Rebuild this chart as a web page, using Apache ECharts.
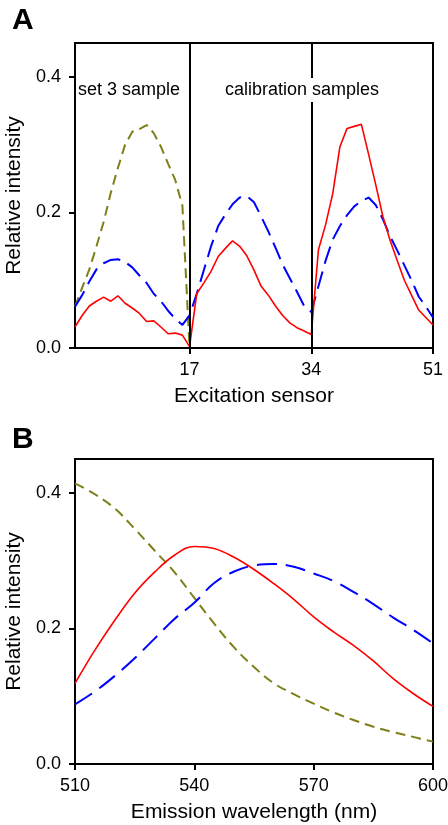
<!DOCTYPE html>
<html>
<head>
<meta charset="utf-8">
<script src="https://cdn.jsdelivr.net/npm/echarts@6/dist/echarts.min.js"></script>
<style>
html,body{margin:0;padding:0;background:#fff;}
#chart{width:448px;height:825px;}
</style>
</head>
<body>
<div id="chart"></div>
<script>
// Panel A data
const sensor = [1,2,3,4,5,6,7,8,9,10,11,12,13,14,15,16,17,18,19,20,21,22,23,24,25,26,27,28,29,30,31,32,33,34,35,36,37,38,39,40,41,42,43,44,45,46,47,48,49,50,51];
const redA = [0.031,0.048,0.062,0.069,0.075,0.069,0.077,0.066,0.059,0.051,0.039,0.040,0.031,0.021,0.022,0.019,0.002,
  0.080,0.096,0.113,0.135,0.147,0.158,0.150,0.136,0.115,0.091,0.078,0.062,0.048,0.037,0.030,0.025,0.020,
  0.145,0.182,0.228,0.297,0.324,0.327,0.330,0.286,0.241,0.194,0.159,0.129,0.100,0.078,0.056,0.045,0.034];
const blueA = [0.061,0.078,0.098,0.116,0.125,0.130,0.131,0.127,0.119,0.107,0.096,0.080,0.069,0.055,0.043,0.034,0.048,
  0.080,0.115,0.150,0.180,0.197,0.212,0.222,0.224,0.215,0.194,0.172,0.148,0.123,0.103,0.083,0.062,0.053,
  0.091,0.129,0.160,0.180,0.196,0.209,0.217,0.222,0.211,0.190,0.165,0.144,0.122,0.100,0.076,0.061,0.045];
const oliveA = [0.061,0.089,0.116,0.150,0.186,0.229,0.266,0.300,0.319,0.323,0.329,0.317,0.297,0.272,0.248,0.210,0.000];
const yTicks = [0, 0.2, 0.4];
const xTicksA = [17, 34, 51];

// Panel B data
const wavelength = [510,515,520,525,530,535,540,545,550,555,560,565,570,575,580,585,590,595,600];
const redB = [0.119,0.168,0.212,0.252,0.283,0.308,0.321,0.318,0.305,0.287,0.266,0.243,0.217,0.195,0.175,0.152,0.126,0.104,0.085];
const blueB = [0.088,0.107,0.130,0.156,0.185,0.214,0.238,0.267,0.284,0.293,0.295,0.291,0.281,0.270,0.254,0.236,0.216,0.198,0.178];
const oliveB = [0.414,0.398,0.377,0.347,0.315,0.283,0.245,0.207,0.172,0.143,0.119,0.103,0.089,0.076,0.065,0.055,0.047,0.040,0.033];
const xTicksB = [510, 540, 570, 600];

const RED = '#ff0000', BLUE = '#0000ff', OLIVE = '#7f7f1a';
const FONT = "'Liberation Sans', Arial, sans-serif";

function pairs(xs, ys) { return ys.map((v, i) => [xs[i], v]); }

function yAxisCfg(gi) {
  return {
    type: 'value', gridIndex: gi, min: 0, max: 0.45,
    name: 'Relative intensity', nameLocation: 'middle', nameGap: 44, nameRotate: 90,
    nameTextStyle: { fontSize: 21, color: '#000', fontFamily: FONT },
    axisLine: { show: true, lineStyle: { color: '#000', width: 2 } },
    axisTick: { show: true, length: 6, inside: false, customValues: yTicks, lineStyle: { color: '#000', width: 2 } },
    axisLabel: { customValues: yTicks, fontSize: 18, color: '#000', margin: 14, fontFamily: FONT,
      formatter: v => v.toFixed(1) },
    splitLine: { show: false }
  };
}

const chart = echarts.init(document.getElementById('chart'), null, { renderer: 'canvas' });
chart.setOption({
  animation: false,
  backgroundColor: '#fff',
  textStyle: { fontFamily: FONT },
  title: [
    { text: 'A', left: 12, top: 6, padding: 0, textStyle: { fontSize: 30, fontWeight: 'bold', color: '#000', fontFamily: FONT } },
    { text: 'B', left: 12, top: 425, padding: 0, textStyle: { fontSize: 30, fontWeight: 'bold', color: '#000', fontFamily: FONT } },
    { text: 'set 3 sample', left: 78, top: 81, padding: 0, textStyle: { fontSize: 18, fontWeight: 'normal', color: '#000', fontFamily: FONT } },
    { text: 'calibration samples', left: 223, top: 78, padding: [3, 2, 3, 2], backgroundColor: '#fff', z: 20,
      textStyle: { fontSize: 18, fontWeight: 'normal', color: '#000', fontFamily: FONT } }
  ],
  grid: [
    { left: 75, right: 15, top: 43, height: 305, show: true, borderColor: '#000', borderWidth: 2,
      containLabel: false, outerBoundsMode: 'none' },
    { left: 75, right: 15, top: 459, height: 305, show: true, borderColor: '#000', borderWidth: 2,
      containLabel: false, outerBoundsMode: 'none' }
  ],
  xAxis: [
    {
      type: 'value', gridIndex: 0, min: 1, max: 51,
      name: 'Excitation sensor', nameLocation: 'middle', nameGap: 38,
      nameTextStyle: { fontSize: 21, color: '#000', fontFamily: FONT },
      axisLine: { lineStyle: { color: '#000', width: 2 } },
      axisTick: { length: 6, customValues: xTicksA, lineStyle: { color: '#000', width: 2 } },
      axisLabel: { customValues: xTicksA, fontSize: 18, color: '#000', margin: 13, fontFamily: FONT },
      splitLine: { show: false }
    },
    {
      type: 'value', gridIndex: 1, min: 510, max: 600,
      name: 'Emission wavelength (nm)', nameLocation: 'middle', nameGap: 38,
      nameTextStyle: { fontSize: 21, color: '#000', fontFamily: FONT },
      axisLine: { lineStyle: { color: '#000', width: 2 } },
      axisTick: { length: 6, customValues: xTicksB, lineStyle: { color: '#000', width: 2 } },
      axisLabel: { customValues: xTicksB, fontSize: 18, color: '#000', margin: 13, fontFamily: FONT },
      splitLine: { show: false }
    }
  ],
  yAxis: [yAxisCfg(0), yAxisCfg(1)],
  series: [
    {
      type: 'line', xAxisIndex: 0, yAxisIndex: 0, data: pairs(sensor, oliveA), symbol: 'none',
      lineStyle: { color: OLIVE, width: 2, type: [10, 6] }
    },
    {
      type: 'line', xAxisIndex: 0, yAxisIndex: 0, data: pairs(sensor, blueA), symbol: 'none',
      lineStyle: { color: BLUE, width: 2, type: [18, 8] }
    },
    {
      type: 'line', xAxisIndex: 0, yAxisIndex: 0, data: pairs(sensor, redA), symbol: 'none',
      lineStyle: { color: RED, width: 1.6, type: 'solid' },
      markLine: {
        silent: true, symbol: ['none', 'none'], label: { show: false },
        lineStyle: { color: '#000', width: 2, type: 'solid' },
        data: [{ xAxis: xTicksA[0] }, { xAxis: xTicksA[1] }]
      }
    },
    {
      type: 'line', xAxisIndex: 1, yAxisIndex: 1, data: pairs(wavelength, oliveB), symbol: 'none', smooth: 0.4,
      lineStyle: { color: OLIVE, width: 2, type: [10, 6] }
    },
    {
      type: 'line', xAxisIndex: 1, yAxisIndex: 1, data: pairs(wavelength, blueB), symbol: 'none', smooth: 0.4,
      lineStyle: { color: BLUE, width: 2, type: [20, 9] }
    },
    {
      type: 'line', xAxisIndex: 1, yAxisIndex: 1, data: pairs(wavelength, redB), symbol: 'none', smooth: 0.4,
      lineStyle: { color: RED, width: 1.6, type: 'solid' }
    }
  ]
});
</script>
</body>
</html>
